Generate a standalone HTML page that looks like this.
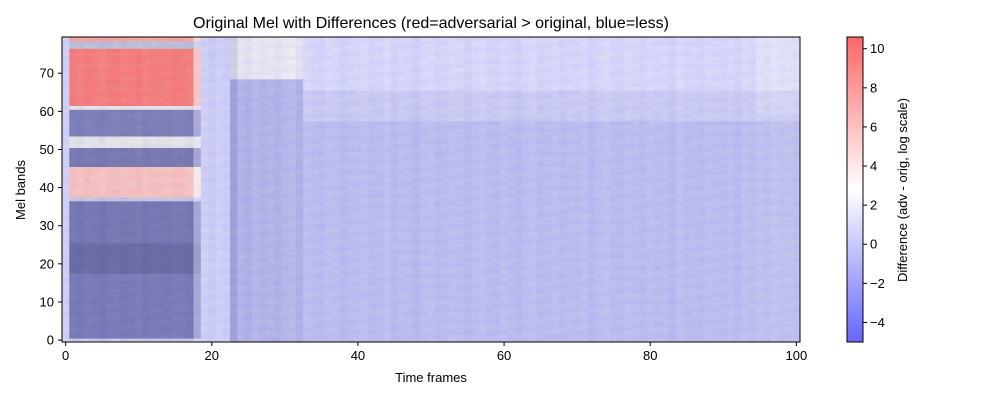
<!DOCTYPE html>
<html><head><meta charset="utf-8">
<style>
html,body{margin:0;padding:0;background:#fff;}
svg{display:block;font-family:"Liberation Sans","DejaVu Sans",sans-serif;}
</style></head>
<body>
<svg id="chart" width="1000" height="400" viewBox="0 0 1000 400">
  <defs>
    <linearGradient id="cbgrad" x1="0" y1="1" x2="0" y2="0">
      <stop offset="0" stop-color="rgb(102,102,255)"/>
      <stop offset="0.5" stop-color="rgb(255,255,255)"/>
      <stop offset="1" stop-color="rgb(255,102,102)"/>
    </linearGradient>
  </defs>
  <text x="431" y="28" text-anchor="middle" font-size="16" fill="#000">Original Mel with Differences (red=adversarial &gt; original, blue=less)</text>
  <g id="cells"></g>
  <rect x="62" y="37" width="738" height="305" fill="none" stroke="#000" stroke-width="1"/>
  <g id="xticks"></g>
  <g id="yticks"></g>
  <text x="431" y="382" text-anchor="middle" font-size="13">Time frames</text>
  <text x="25" y="190" text-anchor="middle" font-size="13" transform="rotate(-90 25 190)">Mel bands</text>
  <rect x="847" y="37" width="16" height="305" fill="url(#cbgrad)" stroke="#000" stroke-width="1"/>
  <g id="cbticks"></g>
  <text x="907" y="190" text-anchor="middle" font-size="13" transform="rotate(-90 907 190)">Difference (adv - orig, log scale)</text>
</svg>
<script>
// ---- data ----
const nFrames = 101;
const nBands = 80;
const xTicks = [0, 20, 40, 60, 80, 100];
const yTicks = [0, 10, 20, 30, 40, 50, 60, 70];
const cbTicks = [-4, -2, 0, 2, 4, 6, 8, 10];
const vMin = -5, vMax = 10.6, vCenter = 2.8;
// row profiles: [fromBand, toBand, value, shade]
const profileA = [[0,0,1,0.1],[1,17,-1.3,0.3],[18,25,-1.4,0.38],[26,36,-1.3,0.32],[37,37,1,0.12],[38,45,5.5,0.05],[46,50,-1,0.33],[51,53,2.5,0.1],[54,60,-1,0.3],[61,61,2.5,0.1],[62,76,9,0.05],[77,78,1.5,0.18],[79,79,7,0.05]];
const profileB = [[0,79,0.4,0.03]];
const profileC = [[0,68,-0.2,0.1],[69,79,2.0,0.06]];
const profileD = [[0,57,0,0.07],[58,65,0.5,0.05],[66,79,0.9,0.03]];
const colJitter = [0.3,0.1,-0.2,0.2,0,-0.3,0.1,0.2,-0.1,0,0.3,-0.2,0.1,0,-0.1,0.2,0.1,-0.2,0.4,0.2,-0.1,0.3,0,-0.4,0.1,-0.2,0.3,0,0.2,-0.1,0.3,0.5,-0.1,0.2,0,-0.1,0.2,0.1,-0.2,0,0.1,0.2,-0.1,0,0.3,-0.2,0.1,0,-0.3,0.1,0.2,-0.1,0,0.2,0.1,-0.2,0.1,0.3,0,-0.1,0.2,0,-0.2,0.1,0.3,-0.1,0,0.2,-0.1,0.1,0,0.2,-0.2,0.1,0.3,0,-0.1,0.2,0.1,-0.1,0.2,0,0.1,-0.2,0.3,0,0.1,-0.1,0.2,0.1,0,0.2,-0.1,0.3,0.1,0.4,0.2,0.5,0.3,0.4,0.2];
const rowJitter = [0.3,-0.2,0.1,0.2,-0.1,0,0.3,-0.3,0.1,0.2,-0.2,0,0.1,-0.1,0.3,0,-0.2,0.2,0.1,-0.1,0,0.2,-0.3,0.1,0,0.2,-0.1,0.3,0,-0.2,0.1,0.2,-0.1,0,0.3,-0.2,0.1,0,0.2,-0.1,0.3,0,-0.2,0.1,0.2,-0.1,0,0.3,-0.2,0.1,0,0.2,-0.1,0.3,0,-0.2,0.1,0.2,-0.1,0,0.3,-0.2,0.1,0,0.2,-0.1,0.3,0,-0.2,0.1,0.2,-0.1,0,0.3,-0.2,0.1,0,0.2,-0.1,0.3];

// ---- scales ----
const X0 = 62, X1 = 800, Y0 = 342, Y1 = 37;
const xs = v => X0 + (v + 0.5) / nFrames * (X1 - X0);
const ys = v => Y0 - (v + 0.5) / nBands * (Y0 - Y1);
const cs = v => 342 - (v - vMin) / (vMax - vMin) * 305;

function profileFor(f) {
  if (f === 0) return profileB;
  if (f <= 18) return profileA;
  if (f <= 22) return profileB;
  if (f <= 32) return profileC;
  return profileD;
}
function lookup(p, b) { for (const r of p) if (b >= r[0] && b <= r[1]) return r; return p[0]; }
function color(v, shade) {
  v = Math.max(vMin, Math.min(vMax, v));
  let t = v < vCenter ? 0.5 * (v - vMin) / (vCenter - vMin) : 0.5 + 0.5 * (v - vCenter) / (vMax - vCenter);
  let r, g, b;
  if (t < 0.5) { r = 2 * t; g = 2 * t; b = 1; } else { r = 1; g = 2 - 2 * t; b = 2 - 2 * t; }
  const k = 1 - shade;
  const f = c => Math.round(255 * (1 - 0.6 * (1 - c)) * k);
  return `rgb(${f(r)},${f(g)},${Math.min(255, Math.round(f(b) * (1 + shade * 0.1)))})`;
}

const NS = "http://www.w3.org/2000/svg";
const cells = document.getElementById("cells");
const w = (X1 - X0) / nFrames, h = (Y0 - Y1) / nBands;
for (let f = 0; f < nFrames; f++) {
  const p = profileFor(f);
  for (let b = 0; b < nBands; b++) {
    const r = lookup(p, b);
    let v = r[2] + 0.8 * colJitter[f] + 0.7 * rowJitter[(b + 3 * f) % nBands];
    let s = r[3];
    if (f === 18 && p === profileA) { v = (v + 1.5) / 2; s *= 0.6; }
    if (f === 23) s += 0.06;
    if (f >= 95 && b >= 60) v += 0.3;
    const el = document.createElementNS(NS, "rect");
    el.setAttribute("x", xs(f - 0.5).toFixed(2));
    el.setAttribute("y", ys(b + 0.5).toFixed(2));
    el.setAttribute("width", (w + 0.4).toFixed(2));
    el.setAttribute("height", (h + 0.4).toFixed(2));
    el.setAttribute("fill", color(v, Math.max(0, s)));
    
    
    cells.appendChild(el);
  }
}

const xt = document.getElementById("xticks");
xTicks.forEach(t => {
  const x = xs(t);
  const l = document.createElementNS(NS, "line");
  l.setAttribute("x1", x); l.setAttribute("x2", x); l.setAttribute("y1", 342); l.setAttribute("y2", 346);
  l.setAttribute("stroke", "#000");
  
  
  xt.appendChild(l);
  const tx = document.createElementNS(NS, "text");
  tx.setAttribute("x", x); tx.setAttribute("y", 360); tx.setAttribute("text-anchor", "middle"); tx.setAttribute("font-size", "13");
  tx.textContent = t;
  
  
  xt.appendChild(tx);
});
const yt = document.getElementById("yticks");
yTicks.forEach(t => {
  const y = ys(t);
  const l = document.createElementNS(NS, "line");
  l.setAttribute("x1", 58); l.setAttribute("x2", 62); l.setAttribute("y1", y); l.setAttribute("y2", y);
  l.setAttribute("stroke", "#000");
  
  
  yt.appendChild(l);
  const tx = document.createElementNS(NS, "text");
  tx.setAttribute("x", 54); tx.setAttribute("y", y + 4.5); tx.setAttribute("text-anchor", "end"); tx.setAttribute("font-size", "13");
  tx.textContent = t;
  
  
  yt.appendChild(tx);
});
const ct = document.getElementById("cbticks");
cbTicks.forEach(t => {
  const y = cs(t);
  const l = document.createElementNS(NS, "line");
  l.setAttribute("x1", 863); l.setAttribute("x2", 867); l.setAttribute("y1", y); l.setAttribute("y2", y);
  l.setAttribute("stroke", "#000");
  
  
  ct.appendChild(l);
  const tx = document.createElementNS(NS, "text");
  tx.setAttribute("x", 870); tx.setAttribute("y", y + 4.5); tx.setAttribute("font-size", "13");
  tx.textContent = t < 0 ? "\u2212" + Math.abs(t) : t;
  
  
  ct.appendChild(tx);
});
</script>
</body></html>
